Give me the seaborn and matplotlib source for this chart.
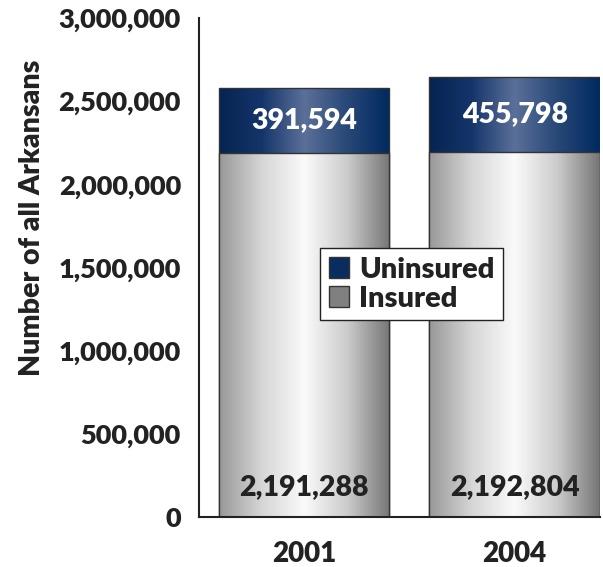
import numpy as np
import pandas as pd
import matplotlib
matplotlib.use('Agg')
import matplotlib.pyplot as plt
import seaborn as sns
from matplotlib.colors import LinearSegmentedColormap
from matplotlib.patches import Patch

years = ['2001', '2004']
insured = [2191288, 2192804]
uninsured = [391594, 455798]

sns.set_theme(style='white')
plt.rcParams['font.family'] = ['Lato', 'DejaVu Sans']
W = 'heavy'
INK = '#222222'

df = pd.DataFrame({'year': years, 'insured': insured, 'uninsured': uninsured})
df['total'] = df['insured'] + df['uninsured']

fig = plt.figure(figsize=(6.03, 5.67), dpi=100)
ax = fig.add_axes([0.33, 0.088, 0.665, 0.88])

sns.barplot(data=df, x='year', y='total', color='#0a2d5f', width=0.81,
            edgecolor='#333333', linewidth=1, ax=ax)
sns.barplot(data=df, x='year', y='insured', color='#909090', width=0.81,
            edgecolor='#333333', linewidth=1, ax=ax)

# cylinder-like shading inside each bar
navy = LinearSegmentedColormap.from_list('navy', ['#052452', '#15356a', '#5b7099', '#284878', '#002a5f'])
grey = LinearSegmentedColormap.from_list('grey', ['#989898', '#d6d6d6', '#fafafa', '#cccccc', '#767676'])
grad = np.linspace(0, 1, 256).reshape(1, -1)
n = len(years)
for k, p in enumerate(ax.patches):
    x0, y0 = p.get_x(), p.get_y()
    w, h = p.get_width(), p.get_height()
    cmap = navy if k < n else grey
    im = ax.imshow(grad, extent=[x0, x0 + w, y0, y0 + h], aspect='auto',
                   cmap=cmap, zorder=p.get_zorder() + 0.1 + 0.2 * (k >= n))
    im.set_clip_path(p)
    p.set_zorder(p.get_zorder() + 0.2 + 0.2 * (k >= n))
    p.set_facecolor('none')

for i in range(n):
    ax.text(i, (df['insured'][i] + df['total'][i]) / 2, f"{uninsured[i]:,}",
            ha='center', va='center', color='white', fontsize=20.5, fontweight=W, zorder=5)
    ax.text(i, 180000, f"{insured[i]:,}", ha='center', va='center',
            color=INK, fontsize=20.5, fontweight=W, zorder=5)

ax.set_xlim(-0.5, 1.405)
ax.set_ylim(0, 3000000)
ax.set_yticks(np.arange(0, 3000001, 500000))
ax.set_yticklabels([f"{v:,}" for v in range(0, 3000001, 500000)])
ax.set_xticks([-0.5, 0.5])
ax.set_xticklabels([])
ax.set_xticks([0, 1], minor=True)
ax.set_xticklabels(years, minor=True)
ax.tick_params(axis='x', which='minor', length=0, pad=17, labelsize=20)
ax.tick_params(axis='x', which='major', length=9, width=1.3, direction='out', colors=INK)
ax.tick_params(axis='y', length=9, width=1.3, direction='out', labelsize=19.5, colors=INK, pad=4)
for lbl in ax.get_yticklabels() + ax.get_xticklabels(minor=True):
    lbl.set_fontweight(W)
    lbl.set_color(INK)

ax.set_xlabel('')
ax.set_ylabel('Number of all Arkansans', fontsize=20.5, fontweight=W, color=INK)
ax.yaxis.set_label_coords(-0.385, 0.6)
for s in ['top', 'right']:
    ax.spines[s].set_visible(False)
for s in ['left', 'bottom']:
    ax.spines[s].set_color(INK)
    ax.spines[s].set_linewidth(1.5)

handles = [Patch(facecolor='#0a2d5f', edgecolor='#333333', label='Uninsured'),
           Patch(facecolor='#808080', edgecolor='#333333', label='Insured')]
leg = ax.legend(handles=handles, loc='center', bbox_to_anchor=(0.53, 0.467),
                frameon=True, fancybox=False, edgecolor=INK, framealpha=1,
                handlelength=0.7, handleheight=0.7, handletextpad=0.35,
                labelspacing=0.1, borderpad=0.3, prop={'size': 21, 'weight': W})
leg.get_frame().set_linewidth(1)
leg.set_zorder(10)
for t in leg.get_texts():
    t.set_color(INK)

plt.savefig('out.png', dpi=100)
